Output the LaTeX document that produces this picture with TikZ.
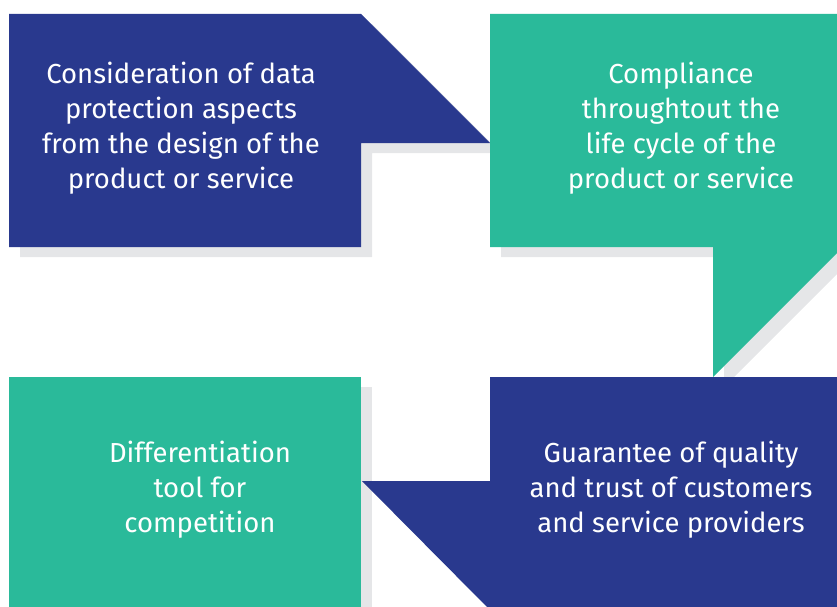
\documentclass[tikz,border=0pt]{standalone}
\usepackage{fontspec}
\setmainfont{Fira Sans}
\begin{document}
\begin{tikzpicture}[x=1pt,y=-1pt,
  navy/.style={fill={rgb,255:red,41;green,57;blue,142}},
  teal/.style={fill={rgb,255:red,42;green,186;blue,154}},
  shade/.style={fill={rgb,255:red,229;green,230;blue,232}},
  label/.style={text=white,align=center,font=\fontsize{27.5}{35}\selectfont,inner sep=0pt}]
\useasboundingbox (0,0) rectangle (837,607);
% drop shadows, offset down and right
\begin{scope}[shift={(11,10)}]
  \path[shade] (9,14) -- (361,14) -- (490,143) -- (361,143) -- (361,247) -- (9,247) -- cycle;
  \path[shade] (490,14) -- (837,14) -- (837,253) -- (713,377) -- (713,247) -- (490,247) -- cycle;
  \path[shade] (9,377) rectangle (361,607);
\end{scope}
% callout boxes
\path[navy] (9,14) -- (361,14) -- (490,143) -- (361,143) -- (361,247) -- (9,247) -- cycle;
\path[teal] (490,14) -- (837,14) -- (837,253) -- (713,377) -- (713,247) -- (490,247) -- cycle;
\path[navy] (490,377) -- (837,377) -- (837,607) -- (487,607) -- (362,481) -- (490,481) -- cycle;
\path[teal] (9,377) rectangle (361,607);
% captions
\node[label] (design) at (181,128) {Consideration of data\\protection aspects\\from the design of the\\product or service};
\node[label] (lifecycle) at (681,128) {Compliance\\throughtout the\\life cycle of the\\product or service};
\node[label] (trust) at (671,490) {Guarantee of quality\\and trust of customers\\and service providers};
\node[label] (compete) at (200,490) {Differentiation\\tool for\\competition};
\end{tikzpicture}
\end{document}
